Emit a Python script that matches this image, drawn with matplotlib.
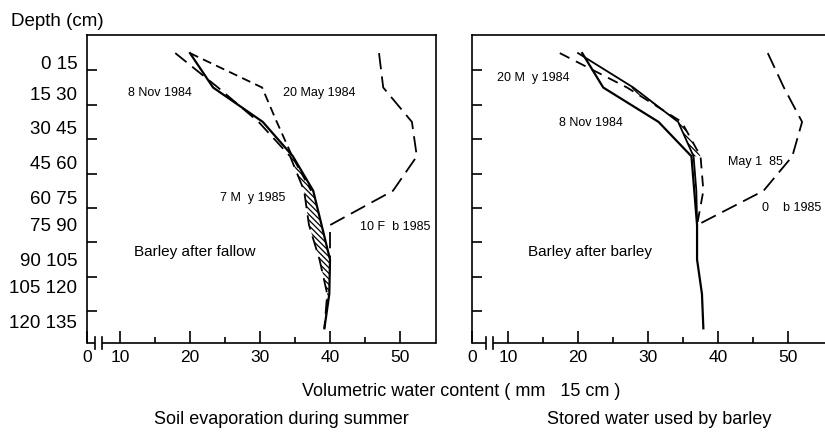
import matplotlib.pyplot as plt
import numpy as np

plt.rcParams["font.family"] = ["Liberation Sans", "DejaVu Sans"]

# depth of each 15 cm layer (mid point) and the layer names
depth = [7.5, 22.5, 37.5, 52.5, 67.5, 82.5, 97.5, 112.5, 127.5]
layer_labels = ["0 15", "15 30", "30 45", "45 60", "60 75",
                "75 90", "90 105", "105 120", "120 135"]
label_depth = [11.8, 24.9, 40.1, 55.4, 70.6, 82.4, 97.7, 109.4, 124.7]
boundaries = [15, 30, 45, 60, 75, 90, 105, 120]
x_ticks = [10, 20, 30, 40, 50]
x_minor = [15, 25, 35, 45]

# Barley after fallow (mm / 15 cm)
fal_nov84 = [20.0, 23.3, 30.4, 34.7, 37.6, 38.8, 40.0, 39.9, 39.2]
fal_may84 = [20.0, 30.3, 32.4, 34.6, 37.3]
fal_may85 = [17.9, 24.0, 29.8, 34.3, 36.3, 37.0, 38.5, 39.6, 39.2]
fal_feb85 = [47.0, 47.6, 51.7, 52.4, 49.0, 40.0, 40.0]

# Barley after barley (mm / 15 cm)
bar_nov84 = [20.6, 23.6, 31.5, 36.2, 36.6, 37.0, 37.0, 37.7, 37.9]
bar_may84 = [20.0, 27.9, 34.3, 36.5, 36.9, 37.0]
bar_may85 = [17.4, 27.0, 34.8, 37.5, 37.9, 37.0]
bar_feb85 = [47.1, 49.4, 52.0, 50.6, 46.5, 37.0]

W, H = 825, 432
fig = plt.figure(figsize=(8.25, 4.32), dpi=100)
ax1 = fig.add_axes([87 / W, 1 - 343 / H, 349 / W, 308 / H])
ax2 = fig.add_axes([472 / W, 1 - 343 / H, 356 / W, 308 / H])


def style_panel(ax, x0, x1, b0, b1, show_labels):
    ax.set_xlim(x0, x1)
    ax.set_ylim(133.9, -0.4)
    for s in ax.spines.values():
        s.set_linewidth(1.2)
    ax.spines["bottom"].set_visible(False)

    ax.set_yticks(boundaries)
    ax.set_yticks(label_depth, minor=True)
    ax.set_yticklabels(layer_labels if show_labels else [], minor=True)
    ax.tick_params(axis="y", which="major", direction="in", length=7,
                   width=1.2, labelleft=False)
    ax.tick_params(axis="y", which="minor", length=0, pad=7, labelsize=13.5)

    ax.set_xticks([x0] + x_ticks)
    ax.set_xticklabels(["0"] + [str(v) for v in x_ticks])
    ax.set_xticks(x_minor, minor=True)
    ax.tick_params(axis="x", which="major", direction="in", length=9,
                   width=1.2, pad=5, labelsize=12.5)
    ax.tick_params(axis="x", which="minor", direction="in", length=4,
                   width=1.2)

    # broken bottom axis
    tr = ax.get_xaxis_transform()
    ax.plot([x0, b0], [0, 0], color="black", lw=1.2, transform=tr,
            clip_on=False, solid_capstyle="butt")
    ax.plot([b1, x1], [0, 0], color="black", lw=1.2, transform=tr,
            clip_on=False, solid_capstyle="butt")
    for b in (b0, b1):
        ax.plot([b, b], [-0.02, 0.02], color="black", lw=1.2,
                transform=tr, clip_on=False)


style_panel(ax1, 5.29, 55.14, 6.43, 7.43, True)
style_panel(ax2, 4.86, 55.7, 6.86, 7.86, False)
ax2.spines["right"].set_visible(False)

plt.rcParams["hatch.linewidth"] = 0.9

# left panel
ax1.fill_betweenx(depth[3:], fal_may85[3:], fal_nov84[3:], facecolor="none",
                  edgecolor="black", hatch="\\\\\\\\\\\\", linewidth=0)
ax1.plot(fal_nov84, depth, color="black", lw=1.6)
ax1.plot(fal_may84, depth[:len(fal_may84)], color="black", lw=1.3,
         dashes=(5, 3))
ax1.plot(fal_may85, depth, color="black", lw=1.3, dashes=(8, 4))
ax1.plot(fal_feb85, depth[:len(fal_feb85)], color="black", lw=1.3,
         dashes=(9, 4))

small = dict(fontsize=9, ha="center", va="center")
ax1.text(15.7, 24.9, "8 Nov 1984", **small)
ax1.text(38.4, 24.9, "20 May 1984", **small)
ax1.text(29.0, 70.6, "7 M  y 1985", **small)
ax1.text(49.3, 83.3, "10 F  b 1985", **small)
ax1.text(20.7, 94.2, "Barley after fallow", fontsize=11, ha="center",
         va="center")

# right panel
ax2.fill_betweenx(depth[1:4], bar_may84[1:4], bar_may85[1:4],
                  facecolor="none", edgecolor="black", hatch="\\\\\\\\\\\\",
                  linewidth=0)
ax2.plot(bar_nov84, depth, color="black", lw=1.6)
ax2.plot(bar_may84, depth[:len(bar_may84)], color="black", lw=1.3)
ax2.plot(bar_may85, depth[:len(bar_may85)], color="black", lw=1.3,
         dashes=(6, 4))
ax2.plot(bar_feb85, depth[:len(bar_feb85)], color="black", lw=1.3,
         dashes=(9, 4))

ax2.text(13.6, 18.3, "20 M  y 1984", **small)
ax2.text(21.9, 37.9, "8 Nov 1984", **small)
ax2.text(45.4, 55.0, "May 1  85", **small)
ax2.text(46.3, 75.0, "0    b 1985", fontsize=9, ha="left", va="center")
ax2.text(21.7, 94.2, "Barley after barley", fontsize=11, ha="center",
         va="center")

fig.text(11 / W, 1 - 21 / H, "Depth (cm)", fontsize=13.5, ha="left",
         va="center")
fig.text(302 / W, 1 - 391 / H, "Volumetric water content ( mm   15 cm )",
         fontsize=13, ha="left", va="center")
fig.text(154 / W, 1 - 420 / H, "Soil evaporation during summer",
         fontsize=13, ha="left", va="center")
fig.text(547 / W, 1 - 420 / H, "Stored water used by barley",
         fontsize=13, ha="left", va="center")

fig.savefig("out.png", dpi=100)
